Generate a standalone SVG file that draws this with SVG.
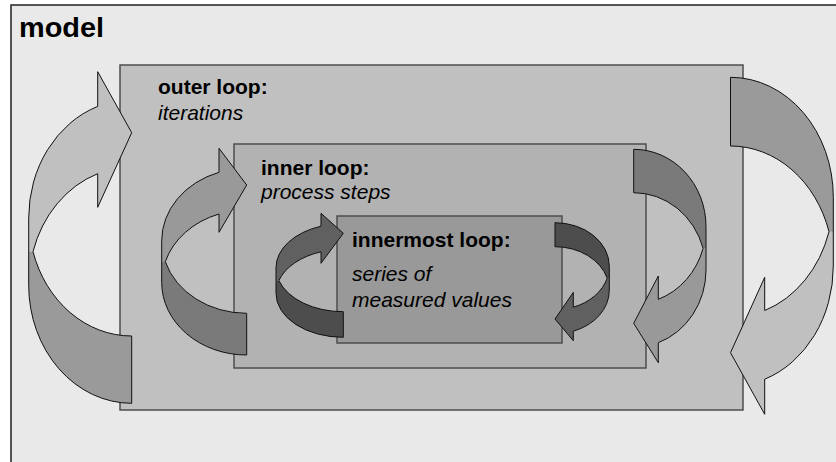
<svg xmlns="http://www.w3.org/2000/svg" width="836" height="462" viewBox="0 0 836 462">
  <style>
    .frame { fill: #e9e9e9; stroke: #222; stroke-width: 1.5; }
    .box { stroke: #4d4d4d; stroke-width: 1.5; }
    .outer { fill: #c0c0c0; }
    .inner { fill: #b2b2b2; }
    .innermost { fill: #999999; }
    .title { font-family: "Liberation Sans", Arial, sans-serif; font-weight: bold; font-size: 21px; fill: #000; }
    .sub { font-family: "Liberation Sans", Arial, sans-serif; font-style: italic; font-size: 21px; fill: #000; }
    .face { stroke: none; }
    .edge { fill: none; stroke: #111; stroke-width: 1; stroke-linejoin: miter; }
    .l1 { fill: #c0c0c0; } .d1 { fill: #9a9a9a; }
    .l2 { fill: #999999; } .d2 { fill: #7a7a7a; }
    .l3 { fill: #606060; } .d3 { fill: #4d4d4d; }
  </style>

  <!-- enclosing model frame -->
  <g id="model">
    <rect class="frame" x="11" y="5" width="900" height="500"/>
    <text x="19" y="37" font-family="Liberation Sans, Arial, sans-serif" font-weight="bold" font-size="27" textLength="85" lengthAdjust="spacingAndGlyphs">model</text>
  </g>

  <g id="outer-loop">
    <rect class="box outer" x="120" y="65" width="623" height="345"/>
    <text class="title" x="158" y="94">outer loop:</text>
    <text class="sub" x="158" y="120">iterations</text>
  </g>

  <g id="inner-loop">
    <rect class="box inner" x="234" y="144" width="412" height="224"/>
    <text class="title" x="261" y="175">inner loop:</text>
    <text class="sub" x="261" y="199">process steps</text>
  </g>

  <g id="innermost-loop">
    <rect class="box innermost" x="337" y="216" width="225" height="127"/>
    <text class="title" x="352" y="247">innermost loop:</text>
    <text class="sub" x="352" y="281">series of</text>
    <text class="sub" x="352" y="307">measured values</text>
  </g>

  <!-- curved loop arrows: front face, back face, then outline -->
  <g id="connectors">
    <!-- outer loop, left -->
    <g id="arrow-outer-left">
      <path class="face l1" d="M97.7,106.4 A103,118.1 0 0 0 28.7,217.9 L28.7,251.6 L33,251.6 A103,118.1 0 0 1 97.7,173.7 L97.7,207.3 L131.7,132.7 L97.7,71.7 Z"/>
      <path class="face d1" d="M33,251.6 L28.7,251.6 L28.7,285.2 A103,118.1 0 0 0 131.7,403.3 L131.7,336 A103,118.1 0 0 1 33,251.6 Z"/>
      <path class="edge" d="M97.7,106.4 A103,118.1 0 0 0 28.7,217.9 L28.7,285.2 A103,118.1 0 0 0 131.7,403.3 L131.7,336 A103,118.1 0 0 1 33,251.6 A103,118.1 0 0 1 97.7,173.7 L97.7,207.3 L131.7,132.7 L97.7,71.7 Z"/>
    </g>
    <!-- outer loop, right -->
    <g id="arrow-outer-right">
      <path class="face l1" d="M764.7,379.2 A102.8,120 0 0 0 833.3,266 L833.3,231.7 L829,231.7 A102.8,120 0 0 1 764.7,310.5 L764.7,277.3 L730.5,352.7 L764.7,414.3 Z"/>
      <path class="face d1" d="M829,231.7 L833.3,231.7 L833.3,197.3 A102.8,120 0 0 0 730.5,77.3 L730.5,146 A102.8,120 0 0 1 829,231.7 Z"/>
      <path class="edge" d="M764.7,379.2 A102.8,120 0 0 0 833.3,266 L833.3,197.3 A102.8,120 0 0 0 730.5,77.3 L730.5,146 A102.8,120 0 0 1 829,231.7 A102.8,120 0 0 1 764.7,310.5 L764.7,277.3 L730.5,352.7 L764.7,414.3 Z"/>
    </g>
    <!-- inner loop, left -->
    <g id="arrow-inner-left">
      <path class="face l2" d="M219,172.3 A85,72.5 0 0 0 161.7,240.8 L161.7,261.7 L165.3,261.7 A85,72.5 0 0 1 219,214 L219,232.3 L246.7,185 L219,148.3 Z"/>
      <path class="face d2" d="M165.3,261.7 L161.7,261.7 L161.7,282.5 A85,72.5 0 0 0 246.7,355 L246.7,313.3 A85,72.5 0 0 1 165.3,261.7 Z"/>
      <path class="edge" d="M219,172.3 A85,72.5 0 0 0 161.7,240.8 L161.7,282.5 A85,72.5 0 0 0 246.7,355 L246.7,313.3 A85,72.5 0 0 1 165.3,261.7 A85,72.5 0 0 1 219,214 L219,232.3 L246.7,185 L219,148.3 Z"/>
    </g>
    <!-- inner loop, right -->
    <g id="arrow-inner-right">
      <path class="face l2" d="M658.3,342.7 A72.3,77.3 0 0 0 706,270 L706,248.3 L703.1,248.3 A72.3,77.3 0 0 1 658.3,299.3 L658.3,276 L633.7,323.3 L658.3,362.7 Z"/>
      <path class="face d2" d="M703.1,248.3 L706,248.3 L706,226.6 A72.3,77.3 0 0 0 633.7,149.3 L633.7,192.7 A72.3,77.3 0 0 1 703.1,248.3 Z"/>
      <path class="edge" d="M658.3,342.7 A72.3,77.3 0 0 0 706,270 L706,226.6 A72.3,77.3 0 0 0 633.7,149.3 L633.7,192.7 A72.3,77.3 0 0 1 703.1,248.3 A72.3,77.3 0 0 1 658.3,299.3 L658.3,276 L633.7,323.3 L658.3,362.7 Z"/>
    </g>
    <!-- innermost loop, left -->
    <g id="arrow-innermost-left">
      <path class="face l3" d="M321,226.2 A67.3,44 0 0 0 276,267.7 L276,280.5 L278.9,280.5 A67.3,44 0 0 1 321,251.8 L321,263.3 L343.3,233.3 L321,213.3 Z"/>
      <path class="face d3" d="M278.9,280.5 L276,280.5 L276,293.3 A67.3,44 0 0 0 343.3,337.3 L343.3,311.7 A67.3,44 0 0 1 278.9,280.5 Z"/>
      <path class="edge" d="M321,226.2 A67.3,44 0 0 0 276,267.7 L276,293.3 A67.3,44 0 0 0 343.3,337.3 L343.3,311.7 A67.3,44 0 0 1 278.9,280.5 A67.3,44 0 0 1 321,251.8 L321,263.3 L343.3,233.3 L321,213.3 Z"/>
    </g>
    <!-- innermost loop, right -->
    <g id="arrow-innermost-right">
      <path class="face l3" d="M573.3,331.2 A54.3,43.5 0 0 0 609.3,290.2 L609.3,278.2 L607.2,278.2 A54.3,43.5 0 0 1 573.3,307.2 L573.3,292.3 L555,319 L573.3,340.7 Z"/>
      <path class="face d3" d="M607.2,278.2 L609.3,278.2 L609.3,266.2 A54.3,43.5 0 0 0 555,222.7 L555,246.7 A54.3,43.5 0 0 1 607.2,278.2 Z"/>
      <path class="edge" d="M573.3,331.2 A54.3,43.5 0 0 0 609.3,290.2 L609.3,266.2 A54.3,43.5 0 0 0 555,222.7 L555,246.7 A54.3,43.5 0 0 1 607.2,278.2 A54.3,43.5 0 0 1 573.3,307.2 L573.3,292.3 L555,319 L573.3,340.7 Z"/>
    </g>
  </g>
</svg>
